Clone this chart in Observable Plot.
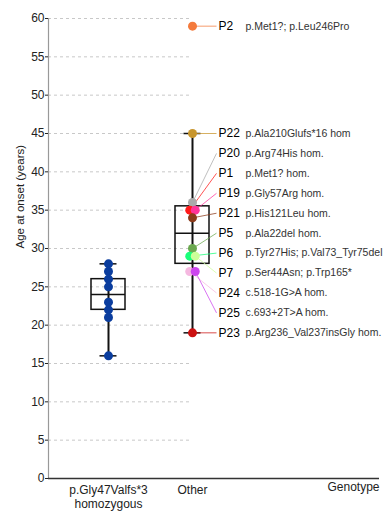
<!DOCTYPE html>
<html><head><meta charset="utf-8">
<script src="https://cdn.jsdelivr.net/npm/d3@7"></script>
<script src="https://cdn.jsdelivr.net/npm/@observablehq/plot@0.6"></script>
<style>body{margin:0;background:#fff;}</style>
</head><body><div id="chart"></div>
<script>
// ---- data ----
const categories = ["p.Gly47Valfs*3\nhomozygous", "Other"];
const groupAges = [28, 27, 26, 25, 23, 22, 21, 16];
const otherPatients = ["P2","P22","P20","P1","P19","P21","P5","P6","P7","P24","P25","P23"];
const otherAges = [59, 45, 36, 35, 35, 34, 30, 29, 29, 27, 27, 19];
const otherVariants = [
  "p.Met1?; p.Leu246Pro",
  "p.Ala210Glufs*16 hom",
  "p.Arg74His hom.",
  "p.Met1? hom.",
  "p.Gly57Arg hom.",
  "p.His121Leu hom.",
  "p.Ala22del hom.",
  "p.Tyr27His; p.Val73_Tyr75del",
  "p.Ser44Asn; p.Trp165*",
  "c.518-1G>A hom.",
  "c.693+2T>A hom.",
  "p.Arg236_Val237insGly hom."
];
const otherColors = ["#f47a3c","#c8962e","#aaaaaa","#ff1a1a","#ff3399","#8b3a1a","#6aa84f","#1aff7a","#ccff99","#f5b8e0","#cc44ee","#cc1111"];
const boxQ1 = [22, 28];
const boxMedian = [24, 32];
const boxQ3 = [26, 35.5];
const whiskerLow = [16, 19];
const whiskerHigh = [28, 45];
const yTicks = d3.range(0, 61, 5);
const axisTitleX = "Genotype";
const axisTitleY = "Age at onset (years)";

// ---- layout helpers ----
const PX = 84; // pixels per category step
const px = p => p / PX;
const xDomain = [-60 / PX, 1 + 187 / PX];

function dodge(values) {
  const counts = d3.rollup(values, v => v.length, d => d);
  const seen = new Map();
  return values.map(v => {
    const n = counts.get(v), k = seen.get(v) || 0;
    seen.set(v, k + 1);
    return (k - (n - 1) / 2) * 5.5;
  });
}

const gd = dodge(groupAges);
const groupPts = groupAges.map((y, j) => ({x: 0 + px(gd[j]), y}));
const od = dodge(otherAges);
const labTop = otherAges[1], labBottom = d3.min(otherAges), labN = otherAges.length - 1;
const otherPts = otherAges.map((y, j) => ({
  x: 1 + px(od[j]), y,
  id: otherPatients[j], variant: otherVariants[j], color: otherColors[j],
  labelY: j === 0 ? y : labTop - (j - 1) * (labTop - labBottom) / (labN - 1)
}));

const boxes = categories.map((c, i) => ({i, q1: boxQ1[i], med: boxMedian[i], q3: boxQ3[i], lo: whiskerLow[i], hi: whiskerHigh[i]}));
const caps = boxes.flatMap(b => [{i: b.i, y: b.lo}, {i: b.i, y: b.hi}]);

const chart = Plot.plot({
  width: 385, height: 511,
  marginLeft: 48, marginRight: 6, marginTop: 18, marginBottom: 33,
  style: {fontFamily: "'Liberation Sans', Arial, sans-serif", background: "#fff"},
  x: {type: "linear", domain: xDomain},
  y: {domain: [0, 60]},
  marks: [
    Plot.ruleY(yTicks.filter(t => t > 0), {y: d => d, x1: xDomain[0], x2: 1, stroke: "#c8c8c8", strokeDasharray: "3,3"}),
    Plot.ruleX([xDomain[0]], {x: d => d, y1: 0, y2: 60, stroke: "#999", strokeWidth: 1.2}),
    Plot.ruleY([0], {y: d => d, stroke: "#333", strokeWidth: 1.5}),
    Plot.ruleX(boxes, {x: "i", y1: "lo", y2: "hi", stroke: "#111", strokeWidth: 2}),
    Plot.rect(boxes, {x1: d => d.i - px(17), x2: d => d.i + px(17), y1: "q1", y2: "q3", fill: "none", stroke: "#111", strokeWidth: 1.5}),
    Plot.ruleY(boxes, {y: "med", x1: d => d.i - px(17), x2: d => d.i + px(17), stroke: "#111", strokeWidth: 1.5}),
    Plot.ruleY(caps, {y: "y", x1: d => d.i - px(8.5), x2: d => d.i + px(8.5), stroke: "#111", strokeWidth: 1.5}),
    Plot.link(otherPts, {x1: "x", y1: "y", x2: 1 + px(24), y2: "labelY", stroke: "color", strokeOpacity: 0.75, strokeWidth: 1}),
    Plot.dot(groupPts, {x: "x", y: "y", r: 4.5, fill: "#0b3d9e"}),
    Plot.dot(otherPts, {x: "x", y: "y", r: 4.5, fill: "color"}),
    Plot.text(otherPts, {x: 1, y: "labelY", text: "id", dx: 26, textAnchor: "start", fontSize: 12, fill: "#000"}),
    Plot.text(otherPts, {x: 1, y: "labelY", text: "variant", dx: 53, textAnchor: "start", fontSize: 10.5, fill: "#333"}),
    Plot.axisY({ticks: yTicks, tickSize: 3, tickPadding: 1, fontSize: 12, label: null, color: "#222"}),
    Plot.axisX({ticks: [0, 1], tickFormat: i => categories[i], tickSize: 0, tickPadding: 6, fontSize: 12, lineHeight: 1.15, label: null, color: "#222"}),
    Plot.text([axisTitleX], {text: d => d, frameAnchor: "bottom-right", dy: 12, textAnchor: "end", fontSize: 12, fill: "#222"}),
    Plot.text([axisTitleY], {text: d => d, frameAnchor: "left", rotate: -90, dx: -28, fontSize: 11.5, fill: "#222"})
  ]
});
document.getElementById("chart").appendChild(chart);
</script>
</body></html>
